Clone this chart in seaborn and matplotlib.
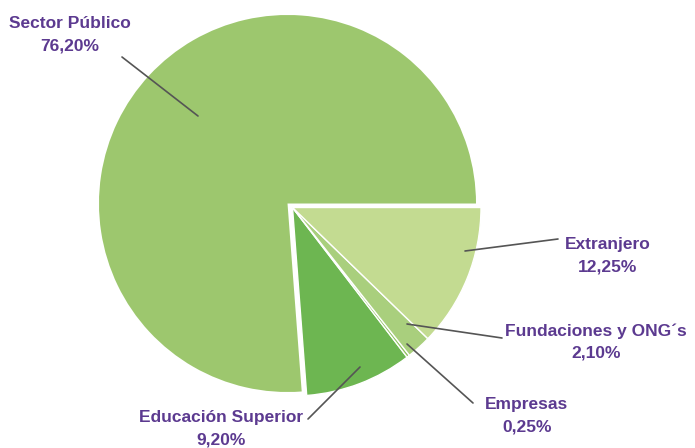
import matplotlib
matplotlib.use("Agg")
import matplotlib.pyplot as plt
import seaborn as sns

# ---- data ----
categories = ["Sector Público", "Educación Superior", "Empresas", "Fundaciones y ONG´s", "Extranjero"]
shares = [76.20, 9.20, 0.25, 2.10, 12.25]
pct_labels = ["76,20%", "9,20%", "0,25%", "2,10%", "12,25%"]

# ---- style ----
colors = ["#9dc76e", "#6db651", "#8fc260", "#a9cf7d", "#c3db91"]
text_color = "#5c3a90"
line_color = "#555555"

sns.set_theme(style="white")
plt.rcParams['font.family'] = ['Liberation Sans', 'DejaVu Sans']

W, H = 695, 448
fig = plt.figure(figsize=(W / 100, H / 100), dpi=100)
ax = fig.add_axes([0, 0, 1, 1])

R = 188.5
c_main = (287.5, H - 203.5)
c_expl = (292.5, H - 207.5)

# main slice
w1, _ = ax.pie(shares, colors=colors, startangle=0, counterclock=True,
               center=c_main, radius=R, wedgeprops=dict(linewidth=0), frame=True)
for w in w1[1:]:
    w.set_visible(False)

# exploded group of smaller slices
w2, _ = ax.pie(shares, colors=colors, startangle=0, counterclock=True,
               center=c_expl, radius=R,
               wedgeprops=dict(linewidth=1.0, edgecolor="white"), frame=True)
w2[0].set_visible(False)

ax.set_xlim(0, W)
ax.set_ylim(0, H)
ax.set_aspect("equal")
ax.axis("off")

# label layout (pixel coordinates: anchor on wedge, line end, text centre)
layout = {
    "Sector Público": ((198, 116), (122, 57), (70, 35)),
    "Educación Superior": ((360, 367), (308, 419), (221, 429)),
    "Empresas": ((407, 344), (473, 403), (527, 416)),
    "Fundaciones y ONG´s": ((407, 324), (502, 338), (596, 342)),
    "Extranjero": ((465, 251), (558, 239), (608, 256)),
}

for cat, pct in zip(categories, pct_labels):
    (ax0, ay0), (ax1, ay1), (tx, ty) = layout[cat]
    ax.plot([ax0, ax1], [H - ay0, H - ay1], color=line_color, lw=1.2,
            solid_capstyle="round")
    ax.text(tx, H - ty, f"{cat}\n{pct}", ha="center", va="center",
            fontsize=12.5, fontweight="bold", color=text_color, linespacing=1.62)

fig.savefig("out.png", dpi=100)
